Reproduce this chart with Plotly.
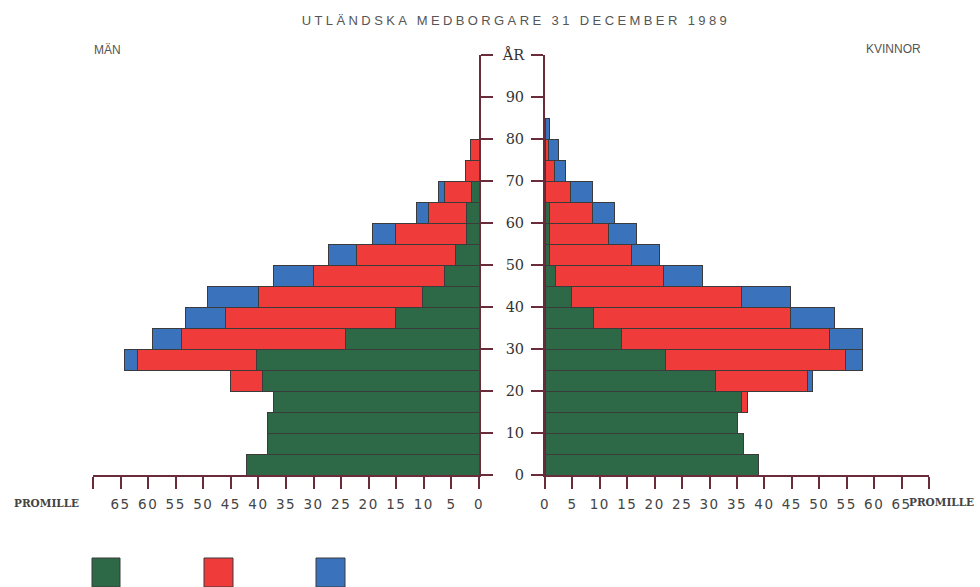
import plotly.graph_objects as go

# Age groups (lower bound of 5-year classes) and bar centres
age_lower = [0, 5, 10, 15, 20, 25, 30, 35, 40, 45, 50, 55, 60, 65, 70, 75, 80]
age_mid = [a + 2.5 for a in age_lower]

# Promille values, men (MÄN) – green, red, blue segments
men_green = [42.2, 38.3, 38.3, 37.3, 39.2, 40.3, 24.2, 15.2, 10.3, 6.3, 4.2, 2.2, 2.2, 1.3, 0.0, 0.0, 0.0]
men_red   = [0.0, 0.0, 0.0, 0.0, 5.9, 21.7, 29.8, 30.8, 29.7, 23.8, 18.0, 13.0, 7.0, 4.9, 2.4, 1.5, 0.0]
men_blue  = [0.0, 0.0, 0.0, 0.0, 0.0, 2.3, 5.2, 7.2, 9.2, 7.2, 5.1, 4.1, 2.2, 1.2, 0.0, 0.0, 0.0]

# Promille values, women (KVINNOR)
women_green = [39.0, 36.1, 35.0, 35.8, 31.0, 21.9, 13.9, 8.8, 4.8, 1.9, 0.9, 0.8, 0.8, 0.0, 0.0, 0.0, 0.0]
women_red   = [0.0, 0.0, 0.0, 1.2, 16.8, 32.9, 37.9, 36.0, 31.0, 19.7, 14.8, 10.8, 7.9, 4.6, 1.7, 0.7, 0.0]
women_blue  = [0.0, 0.0, 0.0, 0.0, 1.0, 3.0, 6.0, 8.0, 9.0, 7.2, 5.1, 5.1, 4.0, 4.1, 2.0, 1.8, 0.8]

x_tickvals = list(range(0, 75, 5))
x_ticktext = [str(v) for v in range(0, 70, 5)] + [""]
y_tickvals = list(range(0, 110, 10))
y_ticktext = [str(v) for v in range(0, 100, 10)] + ["ÅR"]

GREEN = "#2d6847"
RED = "#f03b3b"
BLUE = "#3a73bb"
AXIS = "#6a2c3a"
EDGE = "#3b3b3b"

fig = go.Figure()
for vals, col in [(men_green, GREEN), (men_red, RED), (men_blue, BLUE)]:
    fig.add_trace(go.Bar(y=age_mid, x=vals, orientation="h", width=5,
                         marker=dict(color=col, line=dict(color=EDGE, width=1)),
                         xaxis="x", yaxis="y", showlegend=False, hoverinfo="skip"))
for vals, col in [(women_green, GREEN), (women_red, RED), (women_blue, BLUE)]:
    fig.add_trace(go.Bar(y=age_mid, x=vals, orientation="h", width=5,
                         marker=dict(color=col, line=dict(color=EDGE, width=1)),
                         xaxis="x2", yaxis="y2", showlegend=False, hoverinfo="skip"))

W, H = 980, 587
y0 = (H - 475) / H
y1 = (H - 55) / H

tickfont = dict(family="DejaVu Sans", size=13.5, color="#444")
common_x = dict(showgrid=False, zeroline=False, showline=True, linecolor=AXIS, linewidth=2,
                ticks="outside", ticklen=12, tickwidth=2, tickcolor=AXIS,
                tickvals=x_tickvals, ticktext=x_ticktext, tickfont=tickfont,
                ticklabelstandoff=4, fixedrange=True, automargin=False)
common_y = dict(range=[0, 100], domain=[y0, y1], showgrid=False, zeroline=False, showline=True,
                linecolor=AXIS, linewidth=2, ticks="outside", ticklen=12, tickwidth=2,
                tickcolor=AXIS, tickvals=y_tickvals, fixedrange=True, automargin=False)

fig.update_layout(
    width=W, height=H, margin=dict(l=0, r=0, t=0, b=0, autoexpand=False),
    autosize=False,
    paper_bgcolor="white", plot_bgcolor="rgba(0,0,0,0)",
    barmode="stack", bargap=0,
    xaxis=dict(domain=[93 / W, 479 / W], range=[70, 0], anchor="y", **common_x),
    xaxis2=dict(domain=[545 / W, 929 / W], range=[0, 70], anchor="y2", **common_x),
    yaxis=dict(anchor="x", side="right", showticklabels=False, **common_y),
    yaxis2=dict(anchor="x2", side="left", showticklabels=True, ticktext=y_ticktext,
                ticklabelstandoff=4,
                tickfont=dict(family="DejaVu Serif", size=14.5, color="#333"), **common_y),
    title=dict(text="UTLÄNDSKA MEDBORGARE 31 DECEMBER 1989", x=516 / W, xanchor="center",
               y=(H - 20) / H, yanchor="middle",
               font=dict(family="Liberation Sans", size=13, color="#555")),
)

fig.add_annotation(text="MÄN", x=92 / W, y=(H - 50) / H, xref="paper", yref="paper",
                   xanchor="left", yanchor="middle", showarrow=False,
                   font=dict(family="Liberation Sans", size=12, color="#555"))
fig.add_annotation(text="KVINNOR", x=923 / W, y=(H - 49) / H, xref="paper", yref="paper",
                   xanchor="right", yanchor="middle", showarrow=False,
                   font=dict(family="Liberation Sans", size=12, color="#555"))
pfont = dict(family="DejaVu Serif", size=10.5, color="#444", weight="bold")
fig.add_annotation(text="PROMILLE", x=12 / W, y=(H - 503) / H, xref="paper", yref="paper",
                   xanchor="left", yanchor="middle", showarrow=False, font=pfont)
fig.add_annotation(text="PROMILLE", x=907 / W, y=(H - 502) / H, xref="paper", yref="paper",
                   xanchor="left", yanchor="middle", showarrow=False, font=pfont)

# legend keys (no text in the original)
for xa, xb, col in [(92, 120, GREEN), (204, 233, RED), (316, 345, BLUE)]:
    fig.add_shape(type="rect", xref="paper", yref="paper", x0=xa / W, x1=xb / W,
                  y0=0, y1=(H - 558) / H, fillcolor=col, line=dict(color=EDGE, width=1))

post = """
document.body.style.margin='0';
document.body.style.padding='0';
document.body.style.overflow='hidden';
document.querySelectorAll('.gtitle').forEach(function(e){e.style.letterSpacing='3.4px';});
document.querySelectorAll('.xtick text, .x2tick text').forEach(function(e){e.style.letterSpacing='1.5px';});
"""
fig.write_html("out.html", post_script=post,
               config={"displayModeBar": False, "responsive": False, "staticPlot": True})
